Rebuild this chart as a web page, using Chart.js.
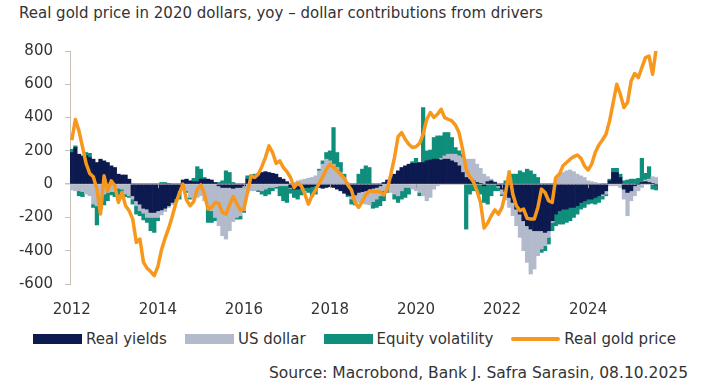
<!DOCTYPE html>
<html lang="en">
<head>
<meta charset="UTF-8">
<title>Real gold price - dollar contributions from drivers</title>
<script src="https://cdn.jsdelivr.net/npm/chart.js"></script>
<style>
    body {
        margin: 0;
        width: 709px;
        height: 390px;
        position: relative;
        overflow: hidden;
        background: #fff;
        font-family: 'DejaVu Sans', sans-serif;
        color: #333;
    }
    #title {
        position: absolute;
        left: 19px;
        top: 4px;
        font-size: 15px;
        line-height: 18px;
        white-space: nowrap;
    }
    #chartBox {
        position: absolute;
        left: 0;
        top: 30px;
        width: 709px;
        height: 290px;
    }
    #legend {
        position: absolute;
        left: 0;
        top: 330px;
        width: 709px;
        display: flex;
        justify-content: center;
        font-size: 15px;
        line-height: 18px;
        white-space: nowrap;
    }
    #legend .item {
        display: flex;
        align-items: center;
        margin: 0 9px;
    }
    #legend .swatch {
        width: 49px;
        height: 10px;
        margin-right: 4px;
    }
    #legend .swatch.line {
        height: 4px;
        border-radius: 2px;
    }
    #source {
        position: absolute;
        right: 21px;
        top: 364px;
        font-size: 15.5px;
        line-height: 18px;
        white-space: nowrap;
    }
</style>
</head>
<body>
<div id="title">Real gold price in 2020 dollars, yoy – dollar contributions from drivers</div>
<div id="chartBox"><canvas id="chart"></canvas></div>
<div id="legend"></div>
<div id="source">Source: Macrobond, Bank J. Safra Sarasin, 08.10.2025</div>

<script>
    // monthly data, Jan 2012 - Aug 2025 (one row per year)
    const startYear = 2012;
    const tickYears = ['2012', '2014', '2016', '2018', '2020', '2022', '2024'];

    const realYields = [
        190, 220, 180, 170, 170, 160, 150, 130, 150, 140, 130, 110,
        100, 60, 55, 55, 30, -70, -100, -120, -145, -150, -170, -170,
        -160, -155, -145, -130, -110, -90, -40, 25, 30, 20, 15, 15,
        30, 30, 30, 25, 10, -10, -20, -20, -20, -25, -20, -20,
        -10, 30, 40, 50, 60, 70, 75, 70, 65, 60, 40, 30,
        15, -20, -30, -30, -25, -20, -20, -15, -10, -20, -25, -20,
        -15, -20, -30, -40, -55, -65, -70, -65, -50, -45, -40, -35,
        -25, -20, -10, 10, 25, 35, 60, 80, 100, 110, 120, 125,
        125, 130, 130, 140, 145, 150, 150, 145, 150, 150, 140, 130,
        110, 70, 40, 30, 20, 10, 5, -10, 15, 20, 10, -10,
        -30, -45, -80, -110, -150, -180, -220, -250, -270, -280, -280, -280,
        -290, -280, -220, -180, -160, -150, -150, -140, -140, -130, -110, -100,
        -90, -90, -80, -70, -60, -40, 20, 70, 70, 40, -30, -50,
        -40, -10, 0, 10, 15, 10, 5, -5
    ];

    const usDollar = [
        -35, -40, -40, -45, -60, -70, -120, -130, -110, -60, -50, -45,
        -45, -25, -30, -60, -70, -20, -30, -40, -30, -50, -30, -30,
        -40, -30, -20, -10, -10, -5, -10, -10, -40, -80, -90, -80,
        -70, -100, -150, -160, -200, -240, -290, -310, -260, -200, -180, -170,
        -150, -50, -40, -40, -35, -40, -30, -20, -20, -15, -10, -10,
        -10, -5, 10, 20, 25, 30, 35, 40, 50, 80, 120, 150,
        140, 120, 100, 70, 40, 10, -20, -40, -60, -70, -80, -90,
        -80, -70, -60, -40, -30, -50, -60, -70, -40, -20, -20, -30,
        -40, -50, -70, -100, -80, -30, -10, 10, 20, 30, 40, 50,
        60, 90, 110, 120, 130, 110, 90, 60, 30, 10, 5, -10,
        -30, -50, -60, -80, -100, -140, -180, -220, -270, -230, -150, -110,
        -80, -40, -10, 40, 60, 70, 80, 85, 75, 60, 50, 40,
        20, 15, 10, 5, -10, -20, -10, -10, -10, -20, -60, -140,
        -60, -60, -40, -20, 10, 20, 40, 40
    ];

    const equityVol = [
        20, 10, -30, -30, 20, 25, -20, -115, -40, -65, -50, -20,
        -30, -40, -20, -15, -10, -30, -50, -30, -40, -30, -80, -90,
        -20, 10, 10, 5, 0, -10, -40, -20, -10, -10, 20, 90,
        60, 10, -80, -70, -20, 10, 20, 80, 70, 10, -10, -20,
        -10, 20, 15, 10, -10, -20, -40, -40, -20, -10, -60, -90,
        -100, -30, -50, -60, -40, -20, -30, -60, -50, 10, 20, 40,
        60, 220, 90, 60, 20, -10, -30, -20, 60, 90, 110, 100,
        -40, -50, -60, -60, -20, 10, -30, -40, -50, -60, -40, 10,
        30, -20, 330, 60, 60, 130, 140, 135, 140, 130, 100, 40,
        30, 20, -270, -60, -40, -40, -60, -100, -120, -70, -40, -20,
        -10, 20, 40, 60, 60, 80, 70, 90, 80, 60, 40, -20,
        -30, -40, -50, -70, -80, -90, -80, -80, -60, -50, -40, -40,
        -30, -25, -40, -40, -20, -10, 10, 25, 25, 20, 20, 25,
        30, 30, 35, 145, 40, 75, -30, -30
    ];

    const goldPrice = [
        264, 388, 320, 222, 124, 64, 44, -30, -180, 50, -40, 20,
        -10, -110, -50, -130, -160, -210, -350, -330, -470, -505, -525, -550,
        -496, -396, -326, -266, -196, -116, -56, 0, -96, -130, -105, -30,
        -5, -60, -150, -140, -110, -115, -170, -180, -125, -75, -115, -155,
        -150, -50, 50, 40, 60, 105, 160, 230, 190, 125, 140, 100,
        75, 40, -20, 5, -10, -60, -120, -70, -35, 5, 45, 90,
        120, 100, 80, 60, 35, -5, -35, -110, -140, -105, -65, -40,
        -45, -45, -45, -65, -30, 60, 160, 285, 310, 270, 240, 220,
        225, 245, 300, 390, 430, 400, 420, 450, 400, 390, 380, 355,
        310, 210, 90, 45, 15, -40, -110, -263, -233, -190, -155, -180,
        -140, -50, 75, -60, -130, -160, -150, -205, -210, -210, -140, -30,
        -50, -100, -110, 40, 60, 110, 130, 150, 165, 175, 155, 110,
        85, 120, 190, 235, 265, 300, 380, 490, 600, 540, 460, 490,
        620, 665, 640, 700, 760, 770, 660, 815
    ];

    const NAVY = '#0c1a4f';
    const GREY = '#b3bacb';
    const TEAL = '#0f8f7b';
    const ORANGE = '#f7981d';

    const months = [];
    for (let i = 0; i < goldPrice.length; i++) {
        months.push(`${startYear + Math.floor(i / 12)}-${String(i % 12 + 1).padStart(2, '0')}`);
    }

    function isYearTick(index) {
        const m = months[index];
        return m.endsWith('-01') && tickYears.includes(m.slice(0, 4));
    }

    Chart.defaults.font.family = "'DejaVu Sans', sans-serif";
    Chart.defaults.font.size = 15;
    Chart.defaults.color = '#333';

    function barSet(label, data, color) {
        return {
            type: 'bar',
            label: label,
            data: data,
            backgroundColor: color,
            borderWidth: 0,
            barPercentage: 1,
            categoryPercentage: 1,
            stack: 'drivers',
            order: 1
        };
    }

    // small year marks hanging under the zero line
    const zeroTicks = {
        id: 'zeroTicks',
        afterDraw(chart) {
            const {ctx, scales: {x, y}} = chart;
            const y0 = y.getPixelForValue(0);
            ctx.save();
            ctx.strokeStyle = '#9c9c9c';
            ctx.lineWidth = 1;
            months.forEach((m, i) => {
                if (!isYearTick(i) || i === 0) return;
                const px = Math.round(x.getPixelForTick(i)) + 0.5;
                ctx.beginPath();
                ctx.moveTo(px, y0);
                ctx.lineTo(px, y0 + 4);
                ctx.stroke();
            });
            ctx.restore();
        }
    };

    new Chart(document.getElementById('chart'), {
        data: {
            labels: months,
            datasets: [
                barSet('Real yields', realYields, NAVY),
                barSet('US dollar', usDollar, GREY),
                barSet('Equity volatility', equityVol, TEAL),
                {
                    type: 'line',
                    label: 'Real gold price',
                    data: goldPrice,
                    borderColor: ORANGE,
                    borderWidth: 3.5,
                    borderJoinStyle: 'round',
                    pointRadius: 0,
                    tension: 0,
                    stack: 'gold',
                    order: 0
                }
            ]
        },
        options: {
            responsive: true,
            maintainAspectRatio: false,
            animation: false,
            layout: {padding: {top: 18, right: 51, bottom: 0, left: 0}},
            plugins: {
                legend: {display: false},
                tooltip: {enabled: false}
            },
            scales: {
                x: {
                    stacked: true,
                    grid: {display: false},
                    border: {display: false},
                    ticks: {
                        autoSkip: false,
                        maxRotation: 0,
                        padding: 9,
                        callback: function (value, index) {
                            return isYearTick(index) ? months[index].slice(0, 4) : '';
                        }
                    },
                    afterFit: s => { s.height = 36; }
                },
                y: {
                    stacked: true,
                    min: -600,
                    max: 800,
                    z: 1,
                    ticks: {stepSize: 200, padding: 12},
                    grid: {
                        color: c => c.tick.value === 0 ? '#9c9c9c' : 'rgba(0,0,0,0)',
                        lineWidth: c => c.tick.value === 0 ? 1.5 : 1,
                        tickColor: '#c9c0b8',
                        tickLength: 5
                    },
                    border: {color: '#c9c0b8', width: 1},
                    afterFit: s => { s.width = 70; }
                }
            }
        },
        plugins: [zeroTicks]
    });

    // legend as html
    const legendItems = [
        ['Real yields', NAVY, false],
        ['US dollar', GREY, false],
        ['Equity volatility', TEAL, false],
        ['Real gold price', ORANGE, true]
    ];
    const legend = document.getElementById('legend');
    legendItems.forEach(([name, color, isLine]) => {
        const item = document.createElement('div');
        item.className = 'item';
        item.innerHTML = `<span class="swatch${isLine ? ' line' : ''}" style="background:${color}"></span><span>${name}</span>`;
        legend.appendChild(item);
    });
</script>
</body>
</html>
